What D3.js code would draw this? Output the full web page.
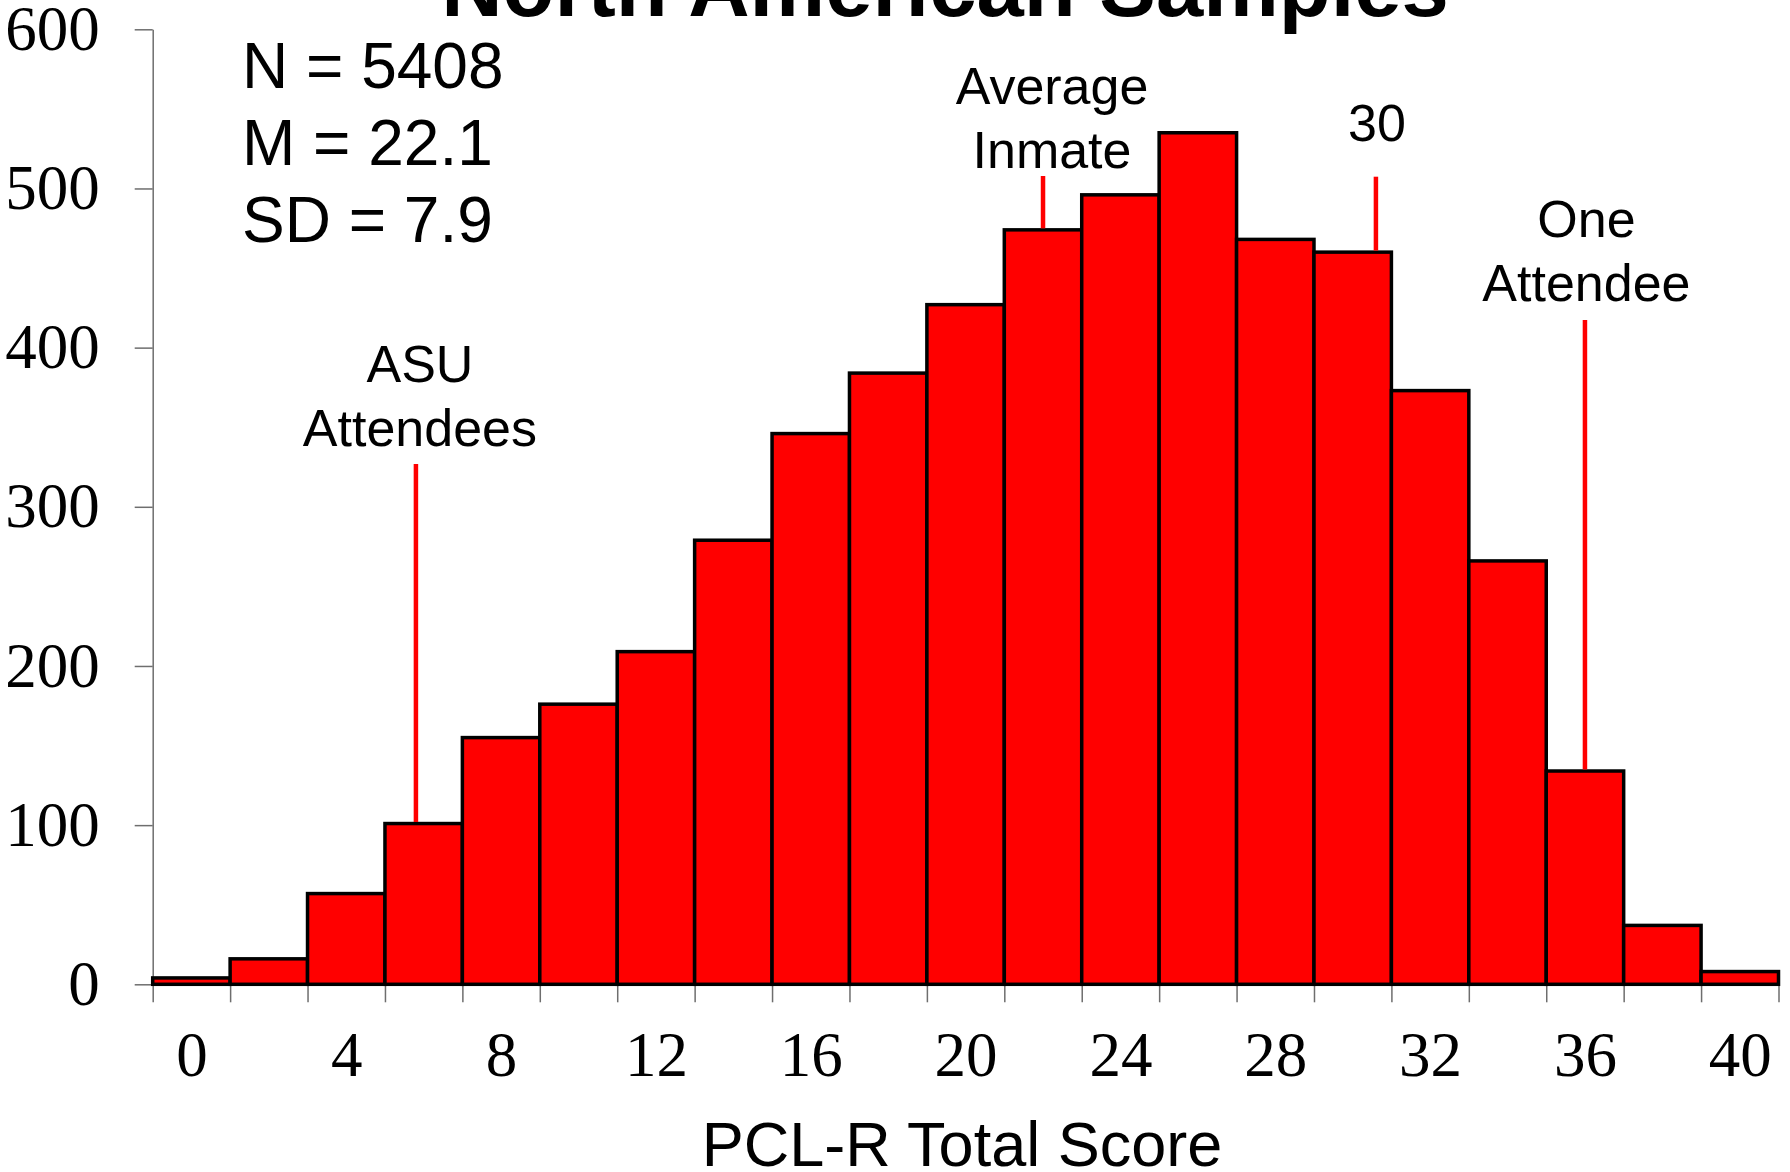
<!DOCTYPE html>
<html><head><meta charset="utf-8">
<script src="https://cdn.jsdelivr.net/npm/d3@7"></script>
<style>body{margin:0;background:#fff}svg{display:block}</style>
</head><body>
<script>
// ---- data ----
const scores = [0,2,4,6,8,10,12,14,16,18,20,22,24,26,28,30,32,34,36,38,40];
const counts = [4,16,57,101,155,176,209,279,346,384,427,474,496,535,468,460,373,266,134,37,8];
const yTickValues = [0,100,200,300,400,500,600];
const xTickLabels = [0,4,8,12,16,20,24,28,32,36,40];
const chartTitle = "North American Samples";
const xAxisTitle = "PCL-R Total Score";
const statsLines = ["N = 5408","M = 22.1","SD = 7.9"];
const annotationText = [["ASU","Attendees"],["Average","Inmate"],["30"],["One","Attendee"]];
const annotationScore = [5.8, 22, 30.6, 36];
const annotationBar = [6, 22, 30, 36];

// ---- layout ----
const W = 1790, H = 1172;
const plotLeft = 152.7, plotRight = 1778.5, plotTop = 29.3, plotBottom = 984.3;
const annLayout = [
  {dx: 4, y0: 381.7, lineTop: 464},
  {dx: 9, y0: 104, lineTop: 176},
  {dx: 1, y0: 141, lineTop: 176.7},
  {dx: 1.5, y0: 236.7, lineTop: 320}
];
const sans = "'Liberation Sans', Arial, sans-serif";
const serif = "'Liberation Serif', 'Times New Roman', serif";

const svg = d3.select("body").append("svg").attr("width", W).attr("height", H);

const x = d3.scaleLinear().domain([-1, 41]).range([plotLeft, plotRight]);
const y = d3.scaleLinear().domain([0, 600]).range([plotBottom, plotTop]);

// y axis
const gy = svg.append("g").attr("transform", `translate(${plotLeft},0)`)
  .call(d3.axisLeft(y).tickValues(yTickValues).tickSize(18).tickPadding(35).tickSizeOuter(0));
gy.selectAll("path,line").attr("stroke", "#6e6e6e").attr("stroke-width", 1.5);
gy.selectAll("text").attr("font-family", serif).attr("font-size", 63).attr("fill", "#000");

// x axis ticks at bin edges
const edges = d3.range(-1, 42, 2);
const gx = svg.append("g").attr("transform", `translate(0,${plotBottom})`)
  .call(d3.axisBottom(x).tickValues(edges).tickSize(18).tickFormat("").tickSizeOuter(0));
gx.selectAll("path,line").attr("stroke", "#6e6e6e").attr("stroke-width", 1.5);

// x axis labels
const gxl = svg.append("g").attr("transform", `translate(0,${plotBottom})`)
  .call(d3.axisBottom(x).tickValues(xTickLabels).tickSize(0).tickPadding(47));
gxl.select(".domain").remove();
gxl.selectAll("text").attr("font-family", serif).attr("font-size", 63).attr("fill", "#000");

// bars
svg.append("g").selectAll("rect").data(scores).join("rect")
  .attr("x", (d) => x(d - 1))
  .attr("width", (d) => x(d + 1) - x(d - 1))
  .attr("y", (d, i) => y(counts[i]))
  .attr("height", (d, i) => y(0) - y(counts[i]))
  .attr("fill", "#ff0000")
  .attr("stroke", "#000")
  .attr("stroke-width", 3.5);

// annotations
annotationText.forEach((lines, k) => {
  const L = annLayout[k];
  const lx = x(annotationScore[k]);
  const barIdx = scores.indexOf(annotationBar[k]);
  svg.append("line")
    .attr("x1", lx).attr("x2", lx)
    .attr("y1", L.lineTop).attr("y2", y(counts[barIdx]) - 1.5)
    .attr("stroke", "#ff0000").attr("stroke-width", 4.5);
  lines.forEach((t, j) => {
    svg.append("text")
      .attr("x", lx + L.dx).attr("y", L.y0 + j * 64)
      .attr("text-anchor", "middle")
      .attr("font-family", sans).attr("font-size", 52).attr("fill", "#000")
      .text(t);
  });
});

// stats
statsLines.forEach((t, j) => {
  svg.append("text").attr("x", 242).attr("y", 88.3 + j * 76.6)
    .attr("font-family", sans).attr("font-size", 64).attr("fill", "#000").text(t);
});

// title (partially clipped at top)
svg.append("text").attr("x", 945).attr("y", 16)
  .attr("text-anchor", "middle").attr("font-family", sans)
  .attr("font-weight", "bold").attr("font-size", 85).attr("fill", "#000")
  .text(chartTitle);

// x axis title
svg.append("text").attr("x", 962).attr("y", 1166)
  .attr("text-anchor", "middle").attr("font-family", sans)
  .attr("font-size", 63).attr("fill", "#000").text(xAxisTitle);
</script>
</body></html>
